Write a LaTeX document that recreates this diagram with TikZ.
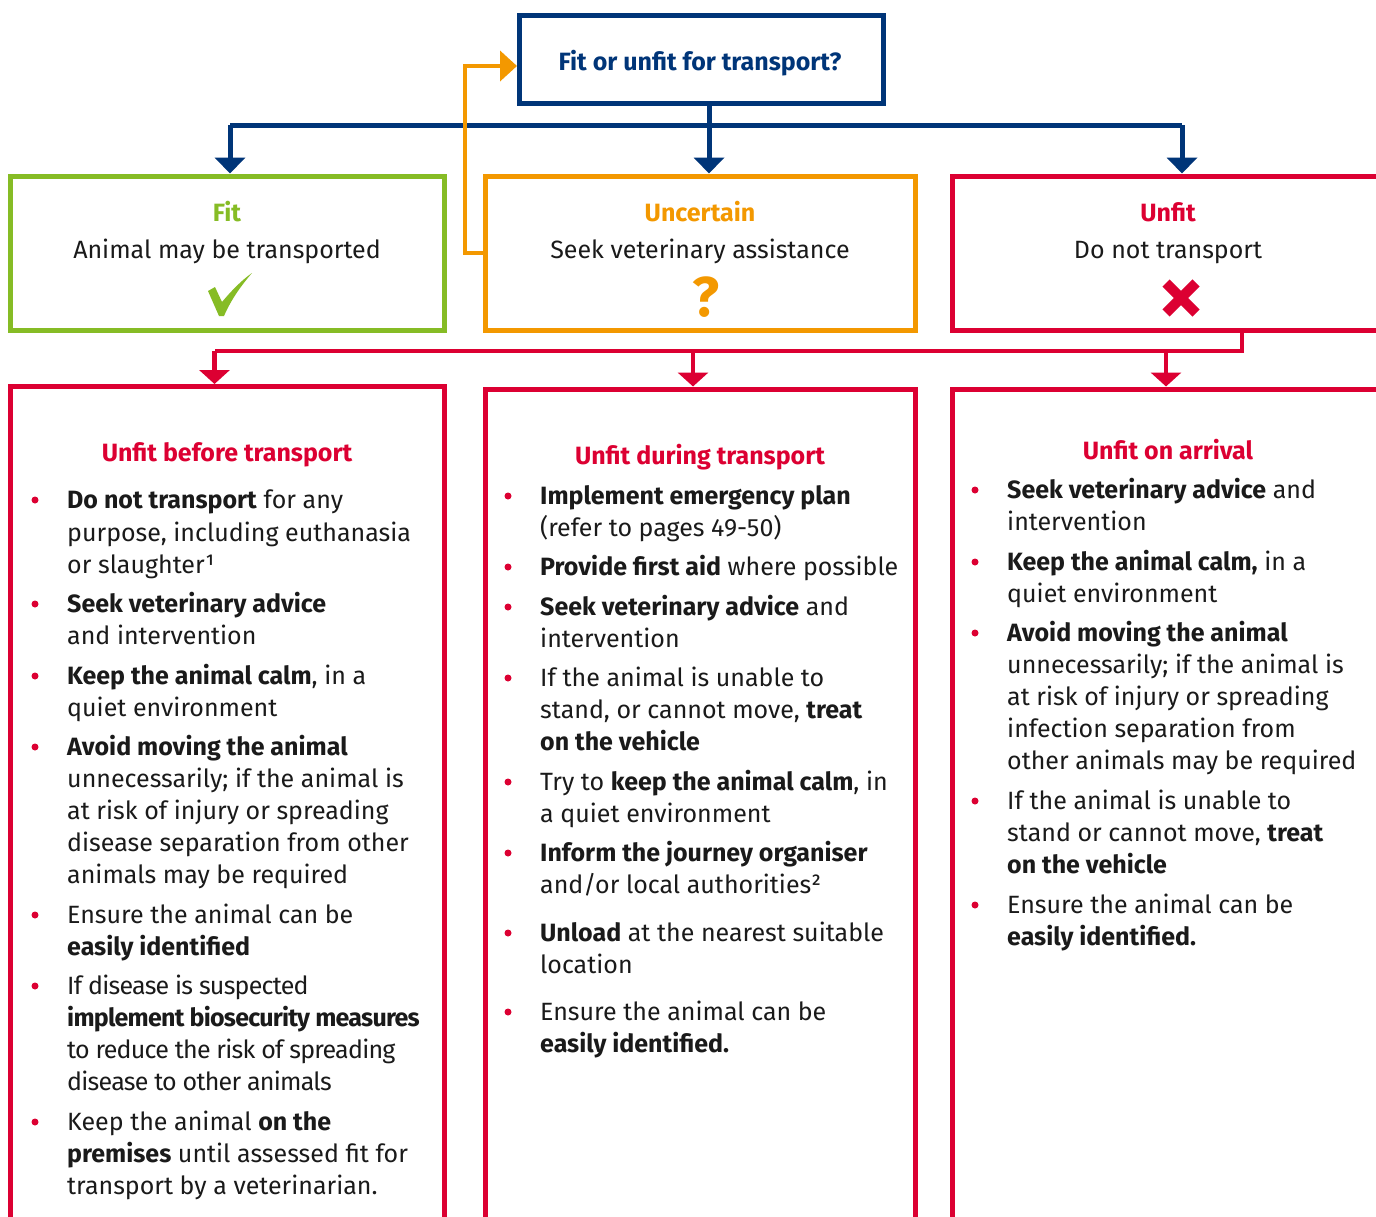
\documentclass[tikz,border=0pt]{standalone}
\usepackage{fontspec}
\setmainfont{Fira Sans}
\usetikzlibrary{arrows.meta}
\definecolor{navy}{RGB}{0,53,120}
\definecolor{fgreen}{RGB}{134,188,37}
\definecolor{forange}{RGB}{243,152,0}
\definecolor{fred}{RGB}{220,0,50}
\definecolor{ftext}{RGB}{26,26,26}
\newcommand\bodyline[4]{\node[body] (#1) at (#2,#3) {#4};}
\newcommand\tightline[4]{\node[body] (#1) at (#2,#3) {\addfontfeatures{LetterSpace=-3}#4};}
\newcommand\bulletdot[3]{\node[bul] (#1) at (#2,#3) {};}
\begin{document}
\begin{tikzpicture}[x=1pt,y=-1pt,
  body/.style={anchor=base west, inner sep=0pt, text=ftext, font=\fontsize{25}{30}\selectfont},
  ttl/.style={anchor=base, inner sep=0pt, font=\fontsize{25}{30}\selectfont\bfseries},
  bul/.style={circle, fill=fred, inner sep=0pt, minimum size=7pt},
  frame/.style={line width=5pt, inner sep=0pt},
  navyline/.style={draw=navy, line width=5pt},
  redline/.style={draw=fred, line width=4.5pt},
  orangeline/.style={draw=forange, line width=4pt},
  navytip/.style={-{Triangle[width=30pt,length=16pt]}},
  redtip/.style={-{Triangle[width=30pt,length=14pt]}},
  orangetip/.style={-{Triangle[width=30pt,length=17pt]}}
]
\clip (0,0) rectangle (1376,1216);
\fill[white] (0,0) rectangle (1376,1216);

% top question box
\node[frame, draw=navy, minimum width=364pt, minimum height=88pt] (q) at (701.5,59.5) {};
\node[ttl, text=navy] (qt) at (700,70) {Fit or unfit for transport?};

% decision boxes
\node[frame, draw=fgreen, minimum width=434pt, minimum height=154pt] (fit) at (227.5,253) {};
\node[frame, draw=forange, minimum width=430pt, minimum height=154pt] (unc) at (700.5,253) {};
\node[frame, draw=fred, minimum width=440pt, minimum height=154pt] (unf) at (1172.5,253) {};

\node[ttl, text=fgreen] (fitt) at (227,221) {Fit};
\node[body, anchor=base] (fits) at (227,258) {Animal may be transported};
\node[ttl, text=forange] (unct) at (700,221) {Uncertain};
\node[body, anchor=base] (uncs) at (700,258) {Seek veterinary assistance};
\node[ttl, text=fred] (unft) at (1168,221) {Unfit};
\node[body, anchor=base] (unfs) at (1168,258) {Do not transport};

% icons
\fill[fgreen] (208,291) -- (215,287) -- (222,302) .. controls (232,290) and (242,280) .. (252,273) .. controls (240,287) and (231,300) .. (224,316) -- (219,316) -- cycle;
\node[inner sep=0pt, text=forange, font=\fontsize{56}{60}\selectfont\bfseries] (qm) at (706,297) {?};
\draw[fred, line width=10pt] (1166,283) -- (1196,313) (1166,313) -- (1196,283);

% navy connectors
\coordinate (bL) at (230,125);
\coordinate (bM) at (709,125);
\coordinate (bR) at (1182,125);
\draw[navyline] (bL) -- (bR);
\draw[navyline] (bM |- q.south) -- (bM);
\draw[navyline, navytip] (bL) -- (bL |- fit.north);
\draw[navyline, navytip] (bM) -- (bM |- unc.north);
\draw[navyline, navytip] (bR) -- (bR |- unf.north);

% orange loop
\coordinate (oA) at (465,253);
\coordinate (oB) at (465,66);
\draw[orangeline, orangetip] (oA -| unc.west) -- (oA) -- (oB) -- (oB -| q.west);

% lower boxes
\node[frame, draw=fred, minimum width=434pt, minimum height=900pt] (bl) at (227.5,836.5) {};
\node[frame, draw=fred, minimum width=430pt, minimum height=900pt] (bm) at (700.5,839) {};
\node[frame, draw=fred, minimum width=440pt, minimum height=900pt] (br) at (1172.5,839) {};

% red connectors
\coordinate (rT) at (1242,351);
\coordinate (rL) at (214.5,351);
\coordinate (rM) at (693,351);
\coordinate (rR) at (1166,351);
\draw[redline] (rT |- unf.south) -- (rT) -- (rL);
\draw[redline, redtip] (rL) -- (rL |- bl.north);
\draw[redline, redtip] (rM) -- (rM |- bm.north);
\draw[redline, redtip] (rR) -- (rR |- br.north);

% left column
\node[ttl, text=fred] (lt) at (227,461) {Unfit before transport};
\bulletdot{lb1}{35}{500}
\bodyline{l1a}{67}{508}{\textbf{Do not transport} for any}
\bodyline{l1b}{67}{541}{purpose, including euthanasia}
\bodyline{l1c}{67}{573}{or slaughter¹}
\bulletdot{lb2}{35}{604}
\bodyline{l2a}{67}{612}{\textbf{Seek veterinary advice}}
\bodyline{l2b}{67}{644}{and intervention}
\bulletdot{lb3}{35}{676}
\bodyline{l3a}{67}{684}{\textbf{Keep the animal calm}, in a}
\bodyline{l3b}{67}{716}{quiet environment}
\bulletdot{lb4}{35}{747}
\bodyline{l4a}{67}{755}{\textbf{Avoid moving the animal}}
\bodyline{l4b}{67}{787}{unnecessarily; if the animal is}
\bodyline{l4c}{67}{819}{at risk of injury or spreading}
\bodyline{l4d}{67}{851}{disease separation from other}
\bodyline{l4e}{67}{883}{animals may be required}
\bulletdot{lb5}{35}{915}
\bodyline{l5a}{67}{923}{Ensure the animal can be}
\bodyline{l5b}{67}{955}{\textbf{easily identified}}
\bulletdot{lb6}{35}{986}
\tightline{l6a}{67}{994}{If disease is suspected}
\tightline{l6b}{67}{1026}{\textbf{implement biosecurity measures}}
\tightline{l6c}{67}{1058}{to reduce the risk of spreading}
\tightline{l6d}{67}{1090}{disease to other animals}
\bulletdot{lb7}{35}{1122}
\bodyline{l7a}{67}{1130}{Keep the animal \textbf{on the}}
\bodyline{l7b}{67}{1162}{\textbf{premises} until assessed fit for}
\bodyline{l7c}{67}{1194}{transport by a veterinarian.}

% middle column
\node[ttl, text=fred] (mt) at (700,464) {Unfit during transport};
\bulletdot{mb1}{508}{496}
\bodyline{m1a}{540}{504}{\textbf{Implement emergency plan}}
\bodyline{m1b}{540}{536}{(refer to pages 49-50)}
\bulletdot{mb2}{508}{567}
\bodyline{m2a}{540}{575}{\textbf{Provide first aid} where possible}
\bulletdot{mb3}{508}{607}
\bodyline{m3a}{540}{615}{\textbf{Seek veterinary advice} and}
\bodyline{m3b}{540}{647}{intervention}
\bulletdot{mb4}{508}{678}
\bodyline{m4a}{540}{686}{If the animal is unable to}
\bodyline{m4b}{540}{718}{stand, or cannot move, \textbf{treat}}
\bodyline{m4c}{540}{750}{\textbf{on the vehicle}}
\bulletdot{mb5}{508}{782}
\bodyline{m5a}{540}{790}{Try to \textbf{keep the animal calm}, in}
\bodyline{m5b}{540}{822}{a quiet environment}
\bulletdot{mb6}{508}{853}
\bodyline{m6a}{540}{861}{\textbf{Inform the journey organiser}}
\bodyline{m6b}{540}{893}{and/or local authorities²}
\bulletdot{mb7}{508}{933}
\bodyline{m7a}{540}{941}{\textbf{Unload} at the nearest suitable}
\bodyline{m7b}{540}{973}{location}
\bulletdot{mb8}{508}{1012}
\bodyline{m8a}{540}{1020}{Ensure the animal can be}
\bodyline{m8b}{540}{1052}{\textbf{easily identified.}}

% right column
\node[ttl, text=fred] (rt) at (1168,459) {Unfit on arrival};
\bulletdot{rb1}{975}{490}
\bodyline{r1a}{1007}{498}{\textbf{Seek veterinary advice} and}
\bodyline{r1b}{1007}{530}{intervention}
\bulletdot{rb2}{975}{562}
\bodyline{r2a}{1007}{570}{\textbf{Keep the animal calm,} in a}
\bodyline{r2b}{1007}{602}{quiet environment}
\bulletdot{rb3}{975}{633}
\bodyline{r3a}{1007}{641}{\textbf{Avoid moving the animal}}
\bodyline{r3b}{1007}{673}{unnecessarily; if the animal is}
\bodyline{r3c}{1007}{705}{at risk of injury or spreading}
\bodyline{r3d}{1007}{737}{infection separation from}
\bodyline{r3e}{1007}{769}{other animals may be required}
\bulletdot{rb4}{975}{801}
\bodyline{r4a}{1007}{809}{If the animal is unable to}
\bodyline{r4b}{1007}{841}{stand or cannot move, \textbf{treat}}
\bodyline{r4c}{1007}{873}{\textbf{on the vehicle}}
\bulletdot{rb5}{975}{905}
\bodyline{r5a}{1007}{913}{Ensure the animal can be}
\bodyline{r5b}{1007}{945}{\textbf{easily identified.}}
\end{tikzpicture}
\end{document}
